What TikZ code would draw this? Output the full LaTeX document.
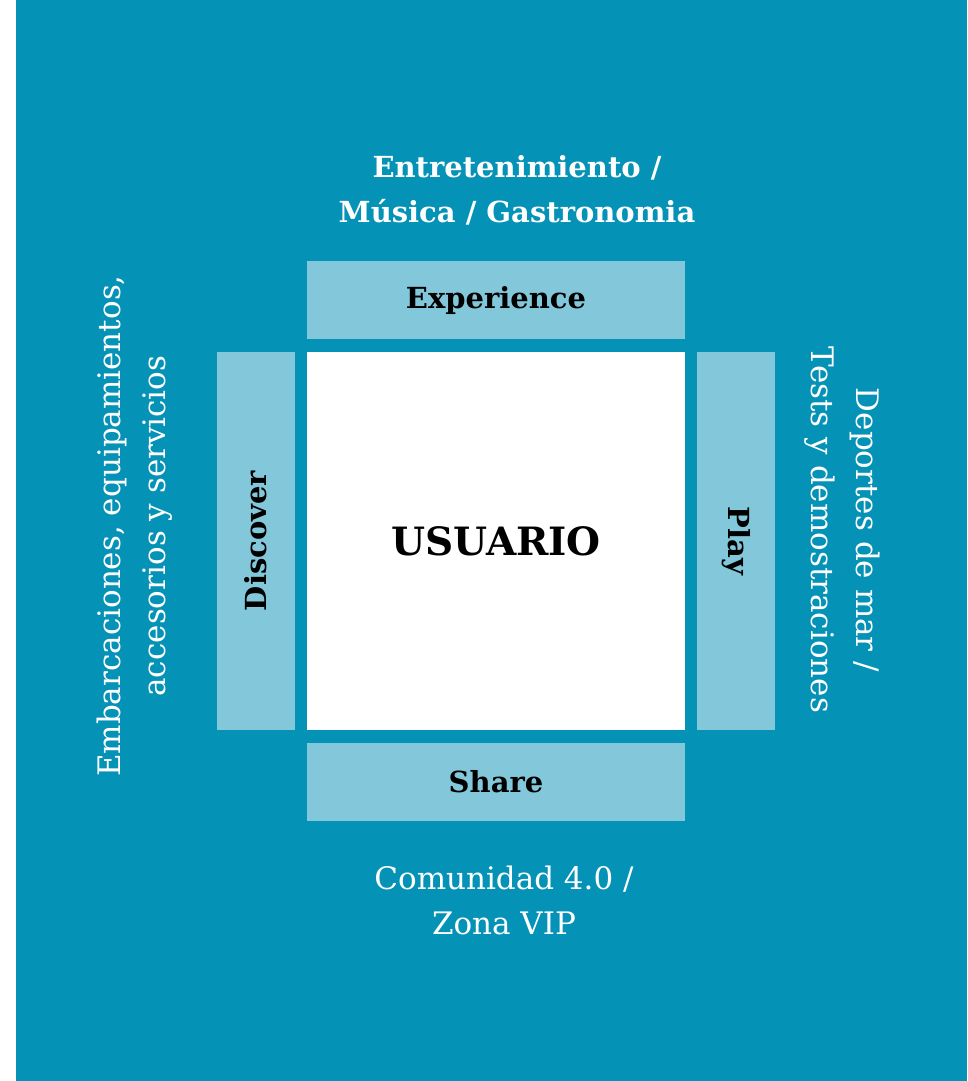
\documentclass[tikz,border=0pt]{standalone}
\usepackage{fontspec}
\setmainfont{DejaVu Serif}
\definecolor{seablue}{HTML}{0592B7}
\definecolor{paleblue}{HTML}{82C7DA}
\tikzset{
    panel/.style={fill=paleblue, inner sep=0pt, font=\bfseries\fontsize{29}{29}\selectfont},
    sidetext/.style={text=white, align=center, font=\fontsize{31}{45}\selectfont},
}
\begin{document}
\begin{tikzpicture}[x=1pt,y=-1pt]

                \useasboundingbox (0,0) rectangle (967,1081);
                \fill [seablue] (16,0) rectangle (967,1081);

                % the four pillars round the user
                \node [panel, minimum width=378pt, minimum height=78pt] (experience) at (496,300) {Experience};
                \node [panel, minimum width=378pt, minimum height=78pt] (share) at (496,782) {Share};
                \node [panel, minimum width=78pt, minimum height=378pt] (discover) at (256,541) {};
                \node [panel, minimum width=78pt, minimum height=378pt] (play) at (736,541) {};
                \node [panel, rotate=90] at (discover.center) {Discover};
                \node [panel, rotate=-90] at (play.center) {Play};
                \node [fill=white, inner sep=0pt, minimum width=378pt, minimum height=378pt,
                       font=\bfseries\fontsize{39}{39}\selectfont] (usuario) at (496,541) {USUARIO};

                % texts outside
                \node [sidetext, font=\bfseries\fontsize{29}{45}\selectfont] (ocio) at (517,190) {Entretenimiento /\\Música / Gastronomia};
                \node [sidetext] (comunidad) at (504,900) {Comunidad 4.0 /\\Zona VIP};
                \node [sidetext, rotate=90] (nautica) at (135,526) {Embarcaciones, equipamientos,\\accesorios y servicios};
                \node [sidetext, rotate=-90] (deportes) at (842,530) {Deportes de mar /\\Tests y demostraciones};

            \end{tikzpicture}
\end{document}
